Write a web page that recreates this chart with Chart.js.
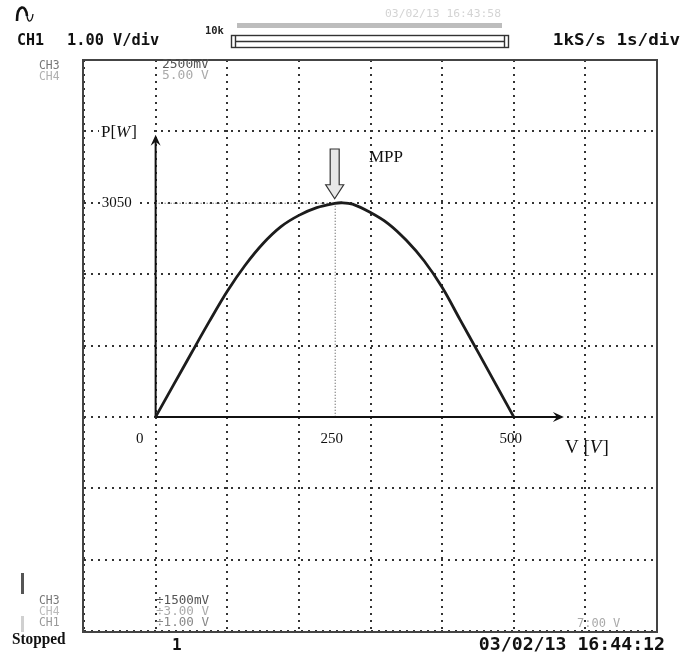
<!DOCTYPE html>
<html>
<head>
<meta charset="utf-8">
<script src="https://cdn.jsdelivr.net/npm/chart.js@4.4.1/dist/chart.umd.min.js"></script>
<style>
  html, body { margin: 0; padding: 0; background: #fff; }
  #wrap { width: 686px; height: 659px; }
</style>
</head>
<body>
<div id="wrap"><canvas id="scope" width="686" height="659"></canvas></div>
<script>
// P-V curve (V in volts, P in watts)
const voltage = [0, 25, 50, 75, 100, 125, 150, 175, 200, 225, 250, 260, 275, 300, 325, 350, 375, 400, 425, 450, 475, 500];
const power   = [0, 455, 910, 1360, 1790, 2160, 2470, 2710, 2870, 2980, 3040, 3050, 3030, 2910, 2750, 2515, 2220, 1845, 1385, 925, 462, 0];

// grid: 8 x 8 divisions, 100 V/div and 3050/3 W/div
const xGrid = [-100, 0, 100, 200, 300, 400, 500, 600, 700];
const yDiv = 3050 / 3;
const yGrid = [-3, -2, -1, 0, 1, 2, 3, 4, 5].map(k => k * yDiv);

// labels drawn on the screen
const xLabels = [0, 250, 500];
const yLabels = [3050];
const mpp = { v: 250, p: 3050 };

const mono = '"DejaVu Sans Mono", "Liberation Mono", monospace';
const serif = '"Liberation Serif", "DejaVu Serif", serif';

function txt(ctx, s, x, y, font, color, align, sx) {
  ctx.save();
  ctx.translate(x, y);
  ctx.scale(sx || 1, 1);
  ctx.font = font;
  ctx.fillStyle = color;
  ctx.textAlign = align || 'left';
  ctx.textBaseline = 'middle';
  ctx.fillText(s, 0, 0);
  ctx.restore();
}

// "P [W]" style label: upright name, italic unit in brackets
function unitLabel(ctx, name, unit, x, y, size, gap) {
  ctx.save();
  ctx.fillStyle = '#111';
  ctx.textBaseline = 'middle';
  ctx.textAlign = 'left';
  const up = size + 'px ' + serif, it = 'italic ' + size + 'px ' + serif;
  ctx.font = up;
  const head = name + gap + '[';
  ctx.fillText(head, x, y);
  let cx = x + ctx.measureText(head).width;
  ctx.font = it;
  ctx.fillText(unit, cx, y);
  cx += ctx.measureText(unit).width + 1;
  ctx.font = up;
  ctx.fillText(']', cx, y);
  ctx.restore();
}

function arrowHead(ctx, x, y, dir) {
  ctx.beginPath();
  if (dir === 'right') {
    ctx.moveTo(x, y); ctx.lineTo(x - 11, y - 5); ctx.lineTo(x - 7, y); ctx.lineTo(x - 11, y + 5);
  } else {
    ctx.moveTo(x, y); ctx.lineTo(x - 5, y + 11); ctx.lineTo(x, y + 7); ctx.lineTo(x + 5, y + 11);
  }
  ctx.closePath();
  ctx.fill();
}

// axes, MPP guides (under the curve)
const underPlugin = {
  id: 'under',
  beforeDatasetsDraw(chart) {
    const ctx = chart.ctx, xs = chart.scales.x, ys = chart.scales.y;
    const x0 = xs.getPixelForValue(0), y0 = ys.getPixelForValue(0);
    const xm = xs.getPixelForValue(mpp.v), ym = ys.getPixelForValue(mpp.p);
    ctx.save();
    // white boxes behind P[W] and 3050
    ctx.fillStyle = '#fff';
    ctx.fillRect(99, ys.getPixelForValue(4 * yDiv) - 9, 50, 19);
    ctx.fillRect(102, ym - 8, 33, 16);
    // fine dotted guides to the MPP
    ctx.strokeStyle = '#444';
    ctx.lineWidth = 1;
    ctx.setLineDash([1, 2]);
    ctx.beginPath();
    ctx.moveTo(x0, ym + 0.5); ctx.lineTo(xm + 15, ym + 0.5);
    ctx.moveTo(xm + 0.5, ym); ctx.lineTo(xm + 0.5, y0);
    ctx.stroke();
    ctx.setLineDash([]);
    // axes with arrows
    const xTip = xs.getPixelForValue(570), yTip = ys.getPixelForValue(4020);
    ctx.strokeStyle = '#111';
    ctx.fillStyle = '#111';
    ctx.lineWidth = 2;
    ctx.beginPath();
    ctx.moveTo(x0, y0); ctx.lineTo(xTip - 6, y0);
    ctx.moveTo(x0, y0); ctx.lineTo(x0, yTip + 6);
    ctx.stroke();
    arrowHead(ctx, xTip, y0, 'right');
    arrowHead(ctx, x0, yTip, 'up');
    ctx.restore();
  }
};

// frame, labels and all the scope screen text
const overPlugin = {
  id: 'over',
  afterDraw(chart) {
    const ctx = chart.ctx, a = chart.chartArea, xs = chart.scales.x, ys = chart.scales.y;
    ctx.save();
    // screen frame
    ctx.strokeStyle = '#444';
    ctx.lineWidth = 2;
    ctx.strokeRect(a.left - 1, a.top, a.right - a.left + 1, a.bottom - a.top + 1);

    // axis labels
    const y0 = ys.getPixelForValue(0);
    xLabels.forEach(v => {
      const px = xs.getPixelForValue(v) + (v === 0 ? -16 : -3);
      txt(ctx, String(v), px, y0 + 22, '15px ' + serif, '#111', 'center');
    });
    yLabels.forEach(p => {
      txt(ctx, String(p), xs.getPixelForValue(0) - 24, ys.getPixelForValue(p), '15px ' + serif, '#111', 'right');
    });
    const yTop = ys.getPixelForValue(4 * yDiv);
    unitLabel(ctx, 'P', 'W', 101, yTop + 1, 17, '');
    unitLabel(ctx, 'V', 'V', 565, y0 + 31, 19, ' ');

    // MPP marker
    txt(ctx, 'MPP', 369, 158, '17px ' + serif, '#111', 'left');
    const xm = xs.getPixelForValue(mpp.v), ym = ys.getPixelForValue(mpp.p);
    ctx.beginPath();
    ctx.moveTo(xm - 4.5, 149); ctx.lineTo(xm + 4.5, 149); ctx.lineTo(xm + 4.5, ym - 18);
    ctx.lineTo(xm + 9, ym - 18); ctx.lineTo(xm, ym - 4); ctx.lineTo(xm - 9, ym - 18);
    ctx.lineTo(xm - 4.5, ym - 18); ctx.closePath();
    ctx.fillStyle = '#e8e8e8';
    ctx.fill();
    ctx.strokeStyle = '#333';
    ctx.lineWidth = 1.2;
    ctx.stroke();

    // --- top status line ---
    ctx.strokeStyle = '#111';
    ctx.lineWidth = 2.6;
    ctx.beginPath();
    ctx.moveTo(17, 21);
    ctx.bezierCurveTo(17, 4, 26, 4, 27, 16);
    ctx.stroke();
    ctx.lineWidth = 1.3;
    ctx.beginPath();
    ctx.moveTo(27, 16);
    ctx.bezierCurveTo(28, 24, 32, 22, 33, 14);
    ctx.stroke();
    txt(ctx, 'CH1', 17, 41, 'bold 15px ' + mono, '#111', 'left', 1.0);
    txt(ctx, '1.00 V/div', 67, 41, 'bold 15px ' + mono, '#111', 'left', 1.02);
    txt(ctx, '03/02/13 16:43:58', 385, 14, '11px ' + mono, '#d4d4d4', 'left', 1.03);
    txt(ctx, '10k', 205, 31, 'bold 11px ' + mono, '#222', 'left', 0.95);
    ctx.fillStyle = '#bdbdbd';
    ctx.fillRect(237, 23, 265, 5);
    ctx.strokeStyle = '#333';
    ctx.lineWidth = 1.4;
    ctx.strokeRect(231.5, 35.5, 277, 12);
    ctx.beginPath();
    ctx.moveTo(235, 41.5); ctx.lineTo(505, 41.5);
    ctx.moveTo(235.5, 35.5); ctx.lineTo(235.5, 47.5);
    ctx.moveTo(504.5, 35.5); ctx.lineTo(504.5, 47.5);
    ctx.stroke();
    txt(ctx, '1kS/s 1s/div', 680, 41, 'bold 16px ' + mono, '#111', 'right', 1.1);

    // --- channel read-outs ---
    const small = '12px ' + mono;
    txt(ctx, 'CH3', 39, 66, small, '#777', 'left', 0.95);
    txt(ctx, 'CH4', 39, 77, small, '#b0b0b0', 'left', 0.95);
    txt(ctx, '2500mV', 162, 65, small, '#555', 'left', 1.08);
    txt(ctx, '5.00 V', 162, 76, small, '#aaa', 'left', 1.08);
    ctx.fillStyle = '#555';
    ctx.fillRect(21, 573, 3, 21);
    ctx.fillStyle = '#d0d0d0';
    ctx.fillRect(21, 616, 3, 16);
    txt(ctx, 'CH3', 39, 601, small, '#777', 'left', 0.95);
    txt(ctx, 'CH4', 39, 612, small, '#bbb', 'left', 0.95);
    txt(ctx, 'CH1', 39, 623, small, '#999', 'left', 0.95);
    txt(ctx, '÷1500mV', 156, 601, small, '#555', 'left', 1.05);
    txt(ctx, '÷3.00 V', 156, 612, small, '#aaa', 'left', 1.05);
    txt(ctx, '÷1.00 V', 156, 623, small, '#888', 'left', 1.05);
    txt(ctx, '7:00 V', 577, 624, small, '#aaa', 'left', 1.0);

    // --- bottom status line ---
    txt(ctx, 'Stopped', 12, 640, 'bold 17px ' + serif, '#111', 'left', 0.9);
    txt(ctx, '1', 172, 646, 'bold 16px ' + mono, '#111', 'left', 1.0);
    txt(ctx, '03/02/13 16:44:12', 665, 646, 'bold 17px ' + mono, '#111', 'right', 1.07);
    ctx.restore();
  }
};

const pvPoints = voltage.map((v, i) => ({ x: v, y: power[i] }));

new Chart(document.getElementById('scope'), {
  type: 'line',
  data: {
    datasets: [{
      label: 'P-V',
      data: pvPoints,
      borderColor: '#1c1c1c',
      borderWidth: 2.8,
      pointRadius: 0,
      tension: 0.35,
      fill: false
    }]
  },
  options: {
    responsive: false,
    animation: false,
    layout: { padding: { left: 84, top: 60, right: 29, bottom: 28 } },
    plugins: { legend: { display: false }, tooltip: { enabled: false } },
    scales: {
      x: {
        type: 'linear',
        min: xGrid[0],
        max: xGrid[xGrid.length - 1],
        afterBuildTicks: s => { s.ticks = xGrid.map(v => ({ value: v })); },
        ticks: { display: false },
        grid: { color: '#333', lineWidth: 2, drawTicks: false },
        border: { display: false, dash: [2, 5] }
      },
      y: {
        type: 'linear',
        min: yGrid[0],
        max: yGrid[yGrid.length - 1],
        afterBuildTicks: s => { s.ticks = yGrid.map(v => ({ value: v })); },
        ticks: { display: false },
        grid: { color: '#333', lineWidth: 2, drawTicks: false },
        border: { display: false, dash: [2, 5] }
      }
    }
  },
  plugins: [underPlugin, overPlugin]
});
</script>
</body>
</html>
